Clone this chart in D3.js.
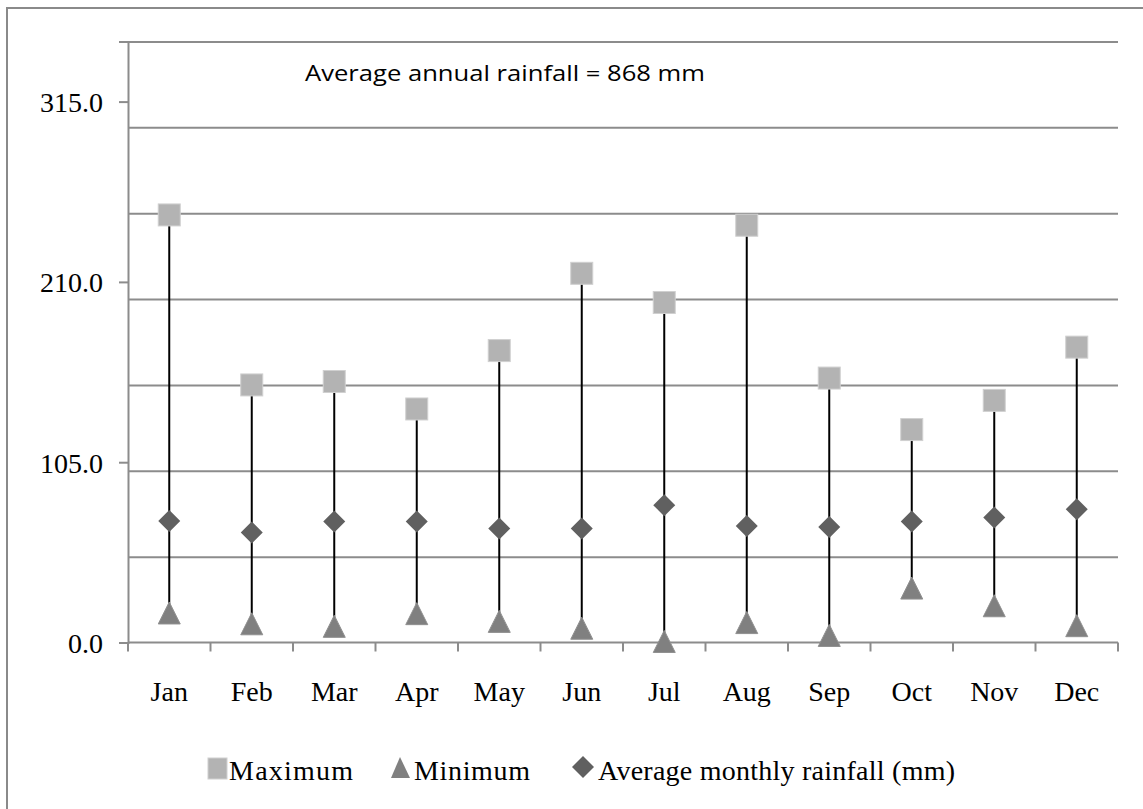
<!DOCTYPE html>
<html>
<head>
<meta charset="utf-8">
<script src="https://cdn.jsdelivr.net/npm/d3@7"></script>
<style>
  html, body { margin: 0; padding: 0; background: #fff; }
  svg { display: block; }
</style>
</head>
<body>
<script>
const months = ["Jan","Feb","Mar","Apr","May","Jun","Jul","Aug","Sep","Oct","Nov","Dec"];
const maximum = [249, 150, 152, 136, 170, 215, 198, 243, 154, 124, 141, 172];
const minimum = [17.2, 10.9, 9.4, 16.8, 12.3, 8.3, 0.6, 11.6, 4.1, 31.7, 21.4, 9.8];
const average = [70.8, 64.1, 70.5, 70.5, 66.4, 66.4, 80.0, 67.9, 67.3, 70.5, 72.8, 77.6];
const yTickLabels = [0, 105, 210, 315];
const gridValues = [50, 100, 150, 200, 250, 300, 350];
const legendLabels = ["Maximum", "Minimum", "Average monthly rainfall (mm)"];
const annotation = "Average annual rainfall = 868 mm";

const W = 1143, H = 809;
const svg = d3.select("body").append("svg").attr("width", W).attr("height", H);

// outer chart border (extends past right/bottom edges)
svg.append("rect").attr("x", 7).attr("y", 8).attr("width", 1300).attr("height", 1000)
  .attr("fill", "#fff").attr("stroke", "#8a8a8a").attr("stroke-width", 2);

const x = d3.scaleBand().domain(months).range([128, 1118]);
const y = d3.scaleLinear().domain([0, 350]).range([642.5, 41.5]);

const grey = "#8c8c8c";
const serif = "'Liberation Serif', 'Times New Roman', serif";

// gridlines
const grid = svg.append("g").attr("transform", "translate(128,0)")
  .call(d3.axisLeft(y).tickValues(gridValues).tickSize(-(1118 - 128)).tickFormat(""));
grid.select(".domain").remove();
grid.selectAll("line").attr("stroke", grey).attr("stroke-width", 2);

// y axis
const yAxis = svg.append("g").attr("transform", "translate(128,0)")
  .call(d3.axisLeft(y).tickValues(yTickLabels).tickSize(9).tickPadding(16).tickFormat(d3.format(".1f")));
yAxis.select(".domain").attr("stroke", grey).attr("stroke-width", 2);
yAxis.selectAll("line").attr("stroke", grey).attr("stroke-width", 2);
yAxis.selectAll("text").attr("font-family", serif).attr("font-size", 28).attr("fill", "#000")
  .attr("dy", "0.35em");

// x axis
const xAxis = svg.append("g").attr("transform", "translate(0," + y(0) + ")")
  .call(d3.axisBottom(x).tickSize(0).tickPadding(0));
xAxis.select(".domain").attr("stroke", grey).attr("stroke-width", 2).attr("d", "M128,0H1118");
xAxis.selectAll(".tick text").attr("font-family", serif).attr("font-size", 28).attr("fill", "#000")
  .attr("dy", 0).attr("y", 58);
// x ticks at category boundaries
const bounds = months.map(m => x(m)).concat([x.range()[1]]);
svg.append("g").selectAll("line").data(bounds).join("line")
  .attr("x1", d => d).attr("x2", d => d)
  .attr("y1", y(0)).attr("y2", y(0) + 9)
  .attr("stroke", grey).attr("stroke-width", 2);

const cx = i => x(months[i]) + x.bandwidth() / 2;
const idx = d3.range(months.length);

// high-low lines
svg.append("g").selectAll("line").data(idx).join("line")
  .attr("x1", cx).attr("x2", cx)
  .attr("y1", i => y(minimum[i])).attr("y2", i => y(maximum[i]))
  .attr("stroke", "#000").attr("stroke-width", 2);

const S = 22;
// max squares
svg.append("g").selectAll("rect").data(idx).join("rect")
  .attr("x", i => cx(i) - S / 2).attr("y", i => y(maximum[i]) - S / 2)
  .attr("width", S).attr("height", S)
  .attr("fill", "#b3b3b3").attr("stroke", "#d0d0d0").attr("stroke-width", 1);
// min triangles
svg.append("g").selectAll("path").data(idx).join("path")
  .attr("d", i => {
    const px = cx(i), py = y(minimum[i]);
    return `M${px},${py - S / 2}L${px + S / 2},${py + S / 2}L${px - S / 2},${py + S / 2}Z`;
  })
  .attr("fill", "#808080").attr("stroke", "#909090").attr("stroke-width", 1);
// average diamonds
svg.append("g").selectAll("path").data(idx).join("path")
  .attr("d", i => {
    const px = cx(i), py = y(average[i]), r = S / 2;
    return `M${px},${py - r}L${px + r},${py}L${px},${py + r}L${px - r},${py}Z`;
  })
  .attr("fill", "#606060");

// annotation
svg.append("text").attr("x", 305).attr("y", 81)
  .attr("font-family", "'Open Sans', 'Liberation Sans', sans-serif").attr("font-size", 22)
  .attr("textLength", 400).attr("lengthAdjust", "spacingAndGlyphs")
  .attr("fill", "#000").text(annotation);

// legend
const legY = 780;
const leg = svg.append("g");
// Maximum
leg.append("rect").attr("x", 208).attr("y", legY - 22).attr("width", 19).attr("height", 21)
  .attr("fill", "#b3b3b3").attr("stroke", "#d0d0d0");
leg.append("text").attr("x", 229).attr("y", legY).text(legendLabels[0])
  .attr("textLength", 124);
// Minimum
leg.append("path").attr("d", `M400,${legY - 23}L410,${legY - 2}L391,${legY - 2}Z`).attr("fill", "#808080");
leg.append("text").attr("x", 414).attr("y", legY).text(legendLabels[1])
  .attr("textLength", 116);
// Average
leg.append("path").attr("d", `M583,${legY - 24}L594,${legY - 13}L583,${legY - 2}L572,${legY - 13}Z`).attr("fill", "#606060");
leg.append("text").attr("x", 598).attr("y", legY).text(legendLabels[2])
  .attr("textLength", 357);
leg.selectAll("text").attr("font-family", serif).attr("font-size", 28).attr("fill", "#000")
  .attr("lengthAdjust", "spacing");
</script>
</body>
</html>
